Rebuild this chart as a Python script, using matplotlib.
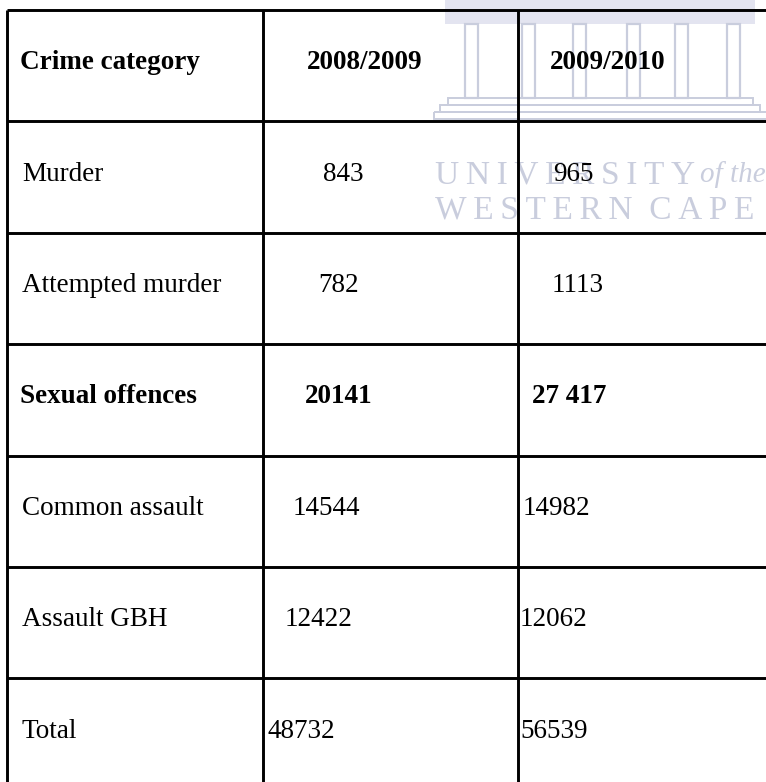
import matplotlib
matplotlib.use('Agg')
import matplotlib.pyplot as plt
from matplotlib.patches import Rectangle

# Table contents
header = ['Crime category', '2008/2009', '2009/2010']
categories = ['Murder', 'Attempted murder', 'Sexual offences',
              'Common assault', 'Assault GBH', 'Total']
values_2008_09 = ['843', '782', '20141', '14544', '12422', '48732']
values_2009_10 = ['965', '1113', '27 417', '14982', '12062', '56539']
bold_rows = ['Sexual offences']

# Layout (pixels)
W, H = 766, 782
TOP = 10
ROW_H = 111.4
COL_X = [7, 263, 518, 773]
N_ROWS = len(categories) + 1
# left edge of text in each column, header first
x_col0 = [20, 22, 22, 20, 22, 22, 22]
x_col1 = [307, 323, 318, 305, 293, 285, 268]
x_col2 = [550, 553, 552, 532, 523, 520, 520]

FONT = 'Liberation Serif'
FS = 19.5
LINE = 2.1
WM = '#c9cddd'
THIN = '\u2009'

fig = plt.figure(figsize=(W / 100, H / 100), dpi=100)
ax = fig.add_axes([0, 0, 1, 1])
ax.set_xlim(0, W)
ax.set_ylim(H, 0)
ax.axis('off')

# Watermark: building
ax.add_patch(Rectangle((445, 0), 310, 24, facecolor='#e3e4f0', edgecolor='none', zorder=0))
for cx in [465, 522, 573, 627, 675, 727]:
    ax.add_patch(Rectangle((cx, 24), 13, 74, facecolor='none', edgecolor=WM, lw=1.6, zorder=0))
ax.add_patch(Rectangle((448, 98), 305, 7, facecolor='none', edgecolor=WM, lw=1.4, zorder=0))
ax.add_patch(Rectangle((440, 105), 320, 7, facecolor='none', edgecolor=WM, lw=1.4, zorder=0))
ax.add_patch(Rectangle((434, 112), 340, 7, facecolor='none', edgecolor=WM, lw=1.4, zorder=0))

# Watermark: text
ax.text(435, 175, THIN.join('UNIVERSITY') + ' ', fontsize=24, family=FONT, color=WM,
        va='center', ha='left', zorder=0)
ax.text(700, 175, 'of the', fontsize=21, family=FONT, style='italic', color=WM,
        va='center', ha='left', zorder=0)
ax.text(435, 210, THIN.join('WESTERN') + '  ' + THIN.join('CAPE'), fontsize=24,
        family=FONT, color=WM, va='center', ha='left', zorder=0)

# Grid lines
row_y = [TOP + i * ROW_H for i in range(N_ROWS + 1)]
ax.hlines(row_y, COL_X[0], COL_X[-1], colors='black', lw=LINE, zorder=2)
ax.vlines(COL_X, TOP, row_y[-1], colors='black', lw=LINE, zorder=2)

# Cell text
rows = [header] + [[c, a, b] for c, a, b in zip(categories, values_2008_09, values_2009_10)]
for i, row in enumerate(rows):
    yc = TOP + (i + 0.5) * ROW_H - 3
    weight = 'bold' if i == 0 or row[0] in bold_rows else 'normal'
    for x, txt in zip([x_col0[i], x_col1[i], x_col2[i]], row):
        ax.text(x, yc, txt, fontsize=FS, family=FONT, fontweight=weight,
                va='center', ha='left', color='black', zorder=3)

fig.savefig('out.png', dpi=100)
